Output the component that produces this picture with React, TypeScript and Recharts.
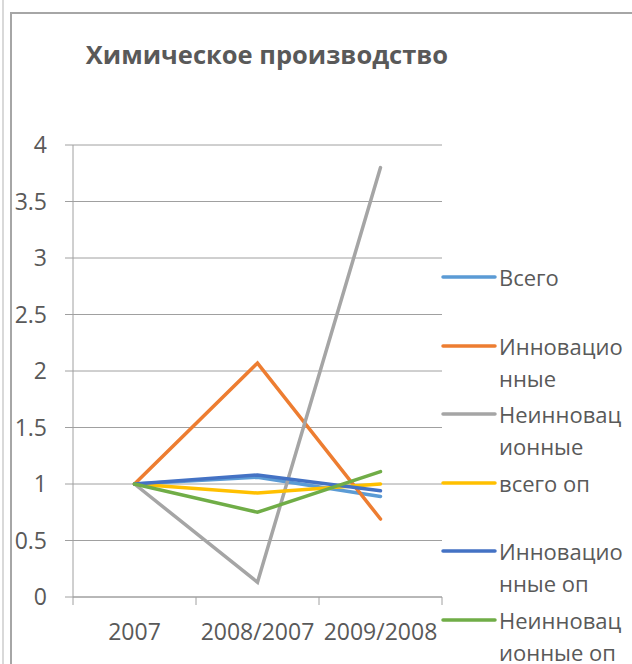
import React from "react";
import { LineChart, Line, XAxis, YAxis, CartesianGrid } from "recharts";

const periods = ["2007", "2008/2007", "2009/2008"];
const vsego = [1, 1.06, 0.89];
const innov = [1, 2.07, 0.69];
const neinnov = [1, 0.13, 3.8];
const vsegoOp = [1, 0.92, 1.0];
const innovOp = [1, 1.08, 0.94];
const neinnovOp = [1, 0.75, 1.11];
const yTicks = [0, 0.5, 1, 1.5, 2, 2.5, 3, 3.5, 4];

const series = [
  { key: "s1", name: "Всего", values: vsego, color: "#5B9BD5" },
  { key: "s2", name: "Инновационные", values: innov, color: "#ED7D31" },
  { key: "s3", name: "Неинновационные", values: neinnov, color: "#A5A5A5" },
  { key: "s4", name: "всего оп", values: vsegoOp, color: "#FFC000" },
  { key: "s5", name: "Инновационные оп", values: innovOp, color: "#4472C4" },
  { key: "s6", name: "Неинновационные оп", values: neinnovOp, color: "#70AD47" },
];

const data = periods.map((p, i) => {
  const row: Record<string, string | number> = { period: p };
  series.forEach((s) => (row[s.key] = s.values[i]));
  return row;
});

const FONT = "'Open Sans', 'Noto Sans', sans-serif";
const TEXT = "#595959";
const GRID = "#a0a0a0";
const BAND = 123; // category width in px

// excel cuts long names at the legend's right edge
const wrap = (s: string, n = 9) => (s.length <= n ? [s] : [s.slice(0, n), s.slice(n).trim()]);

const XTick = (props: any) => {
  const { x, y, payload, index } = props;
  const last = index === periods.length - 1;
  return (
    <g>
      <line x1={x - BAND / 2} x2={x - BAND / 2} y1={y} y2={y + 8} stroke={GRID} />
      {last && <line x1={x + BAND / 2} x2={x + BAND / 2} y1={y} y2={y + 8} stroke={GRID} />}
      <text x={x} y={y + 43} textAnchor="middle" fill={TEXT} fontSize={23} fontFamily={FONT}>
        {payload.value}
      </text>
    </g>
  );
};

const LegendBox = () => (
  <div style={{ position: "absolute", left: 441, top: 261, fontFamily: FONT, fontSize: 22, color: TEXT }}>
    {series.map((s) => (
      <div key={s.key} style={{ height: 68.6, display: "flex", alignItems: "flex-start" }}>
        <svg width={58} height={32} style={{ flex: "none" }}>
          <line x1={2} x2={54} y1={16} y2={16} stroke={s.color} strokeWidth={3.5} strokeLinecap="round" />
        </svg>
        <div style={{ lineHeight: "32px", whiteSpace: "nowrap" }}>
          {wrap(s.name).map((l) => (
            <div key={l}>{l}</div>
          ))}
        </div>
      </div>
    ))}
  </div>
);

export default function App() {
  return (
    <div style={{ position: "absolute", left: 0, top: 0, width: 632, height: 664, background: "#fff", overflow: "hidden" }}>
      <div style={{ position: "absolute", left: 2, top: 0, width: 2, height: 664, background: "#d9d9d9" }} />
      <div
        style={{
          position: "absolute",
          left: 10,
          top: 12,
          width: 640,
          height: 680,
          borderLeft: "2px solid #a6a6a6",
          borderTop: "2px solid #a6a6a6",
        }}
      />
      <div
        style={{
          position: "absolute",
          left: 267,
          top: 37,
          transform: "translateX(-50%)",
          whiteSpace: "nowrap",
          fontFamily: FONT,
          fontWeight: 700,
          fontSize: 25.5,
          color: TEXT,
        }}
      >
        Химическое производство
      </div>
      <div style={{ position: "absolute", left: 0, top: 0 }}>
        <LineChart width={632} height={664} data={data} margin={{ top: 145, right: 190, left: 0, bottom: 0 }}>
          <CartesianGrid horizontal vertical={false} stroke={GRID} />
          <XAxis
            dataKey="period"
            height={67}
            stroke={GRID}
            tickLine={false}
            tickSize={0}
            tickMargin={0}
            tick={<XTick />}
            interval={0}
            padding={{ left: BAND / 2, right: BAND / 2 }}
          />
          <YAxis
            width={73}
            domain={[0, 4]}
            ticks={yTicks}
            stroke={GRID}
            tickSize={8}
            tickMargin={18}
            tick={{ fill: TEXT, fontSize: 23, fontFamily: FONT }}
          />
          {series.map((s) => (
            <Line
              key={s.key}
              dataKey={s.key}
              name={s.name}
              stroke={s.color}
              strokeWidth={3.5}
              strokeLinecap="round"
              dot={false}
              activeDot={false}
              isAnimationActive={false}
            />
          ))}
        </LineChart>
      </div>
      <LegendBox />
    </div>
  );
}
